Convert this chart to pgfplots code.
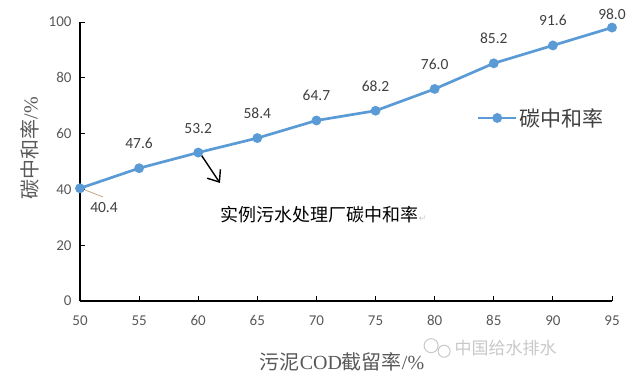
\documentclass[border=0pt]{standalone}
\usepackage{pgfplots}
\pgfplotsset{compat=1.18}
\usetikzlibrary{arrows.meta}
\usepackage{fontspec}
\setmainfont{Carlito}
\newfontfamily\cjk{Noto Sans CJK SC}
\newfontfamily\serifl{Liberation Serif}
\newfontfamily\dejavu{DejaVu Sans}
\definecolor{lineblue}{HTML}{5B9BD5}
\definecolor{tickgray}{HTML}{595959}
\definecolor{lblgray}{HTML}{404040}
\definecolor{leader}{HTML}{C4A882}
\definecolor{wm}{HTML}{C8C8C8}
\begin{document}
\begin{tikzpicture}
\useasboundingbox (-80pt,-80pt) rectangle (560pt,301pt);
\begin{axis}[
  at={(0,0)}, anchor=south west,
  scale only axis, width=532pt, height=279pt,
  xmin=50, xmax=95, ymin=0, ymax=100,
  xtick={50,55,...,95}, ytick={0,20,...,100},
  axis x line*=bottom, axis y line*=left,
  axis line style={black, line width=1.2pt, -},
  tick align=inside, major tick length=5pt,
  tick style={black, line width=1pt},
  ticklabel style={font=\fontsize{15}{17}\selectfont, color=tickgray},
  yticklabel style={xshift=-5pt},
  xticklabel style={yshift=-11pt},
  /pgf/number format/assume math mode=true,
  clip=false,
  legend style={draw=none, fill=none, at={(rel axis cs:0.74,0.656)}, anchor=west,
    font=\cjk\fontsize{21}{23}\selectfont, text=lblgray},
  legend image code/.code={\draw[mark repeat=2, mark phase=2, #1] plot coordinates {(0pt,0pt) (19pt,0pt) (38pt,0pt)};},
  legend cell align=left,
]
\addplot[color=lineblue, line width=2.7pt, mark=*, mark size=3.5pt, mark options={fill=lineblue, draw=lineblue}]
  coordinates {(50,40.4) (55,47.6) (60,53.2) (65,58.4) (70,64.7) (75,68.2) (80,76.0) (85,85.2) (90,91.6) (95,98.0)};
\addlegendentry{碳中和率}
\addplot[draw=none, mark=none, forget plot,
  nodes near coords, point meta=y,
  nodes near coords style={/pgf/number format/.cd, fixed, fixed zerofill, precision=1, /tikz/.cd,
    anchor=base, yshift=19.5pt, inner sep=0pt, font=\fontsize{15.5}{17}\selectfont, text=lblgray}]
  coordinates {(55,47.6) (60,53.2) (65,58.4) (70,64.7) (75,68.2) (80,76.0) (85,85.2) (90,91.6)};
\addplot[draw=none, mark=none, forget plot,
  nodes near coords, point meta=y,
  nodes near coords style={/pgf/number format/.cd, fixed, fixed zerofill, precision=1, /tikz/.cd,
    anchor=base, yshift=8pt, inner sep=0pt, font=\fontsize{15.5}{17}\selectfont, text=lblgray}]
  coordinates {(95,98.0)};
\addplot[draw=none, mark=none, forget plot,
  nodes near coords, point meta=y,
  nodes near coords style={/pgf/number format/.cd, fixed, fixed zerofill, precision=1, /tikz/.cd,
    anchor=center, xshift=24pt, yshift=-19pt, inner sep=0pt, font=\fontsize{15.5}{17}\selectfont, text=lblgray}]
  coordinates {(50,40.4)};
\draw[leader, line width=0.8pt] (axis cs:50.42,39.8) -- (axis cs:51.95,37.3);
\draw[black, line width=1.4pt, -{Straight Barb[length=10pt,width=16pt]}] (axis cs:60.15,53.0) -- (axis cs:61.84,42.3);
\node[text=black, font=\cjk\fontsize{18}{20}\selectfont, inner sep=0pt, anchor=west] at (axis cs:61.9,31.0) {实例污水处理厂碳中和率{\dejavu\fontsize{9}{10}\selectfont\color{wm}↵}};
\node[rotate=90, text=tickgray, inner sep=0pt] at (axis cs:45.77,54.8) {\cjk\fontsize{20}{22}\selectfont 碳中和率{\serifl /\%}};
\node[text=tickgray, inner sep=0pt] at (axis cs:72.16,-21.9) {\cjk\fontsize{20}{22}\selectfont 污泥{\serifl COD}截留率{\serifl /\%}};
\node[text=wm, inner sep=0pt] at (axis cs:86.0,-16.8) {\cjk\fontsize{17}{19}\selectfont 中国给水排水};
\draw[wm, line width=1pt] (axis cs:79.7,-16.0) circle (7pt);
\draw[wm, line width=1pt, fill=white] (axis cs:80.8,-18.0) circle (6pt);
\end{axis}
\end{tikzpicture}
\end{document}
